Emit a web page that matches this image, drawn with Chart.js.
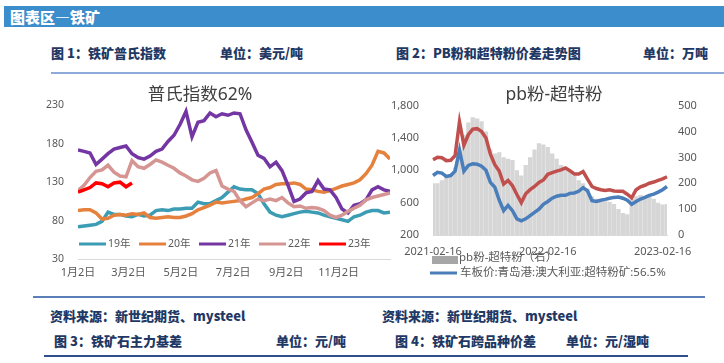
<!DOCTYPE html>
<html lang="zh">
<head>
<meta charset="utf-8">
<title>图表区—铁矿</title>
<script src="https://cdn.jsdelivr.net/npm/chart.js@4.4.0/dist/chart.umd.min.js"></script>
<style>
  body { margin: 0; background: #fff; font-family: "Noto Sans CJK SC", sans-serif; }
  #page { position: relative; width: 724px; height: 363px; overflow: hidden; }
  .t { position: absolute; white-space: nowrap; }
  #band { left: 4px; top: 6px; width: 720px; height: 21px; background: #3c8dcb; }
  #band span { position: absolute; left: 6px; top: 0; line-height: 21px; color: #fff; font-weight: 900; font-size: 15px; }
  .hd { font-size: 13px; font-weight: 900; color: #1f3864; line-height: 16px; }
  .rule { position: absolute; }
  canvas { position: absolute; }
</style>
</head>
<body>
<div id="page">
  <div id="band" class="t"><span>图表区—铁矿</span></div>
  <div class="t hd" style="left:51px;top:45px">图 1：铁矿普氏指数</div>
  <div class="t hd" style="left:220px;top:45px">单位：美元/吨</div>
  <div class="t hd" style="left:396px;top:45px">图 2：PB粉和超特粉价差走势图</div>
  <div class="t hd" style="left:643px;top:45px">单位：万吨</div>
  <div class="rule" style="left:51px;top:72px;width:673px;height:2px;background:#8eaadb"></div>

  <canvas id="ironIndex" width="362" height="200" style="left:30px;top:85px"></canvas>
  <canvas id="pbSpread" width="332" height="200" style="left:392px;top:85px"></canvas>

  <div class="rule" style="left:33px;top:296px;width:672px;height:2px;background:#5b80b8"></div>
  <div class="t hd" style="left:50px;top:308px">资料来源：新世纪期货、mysteel</div>
  <div class="t hd" style="left:382px;top:308px">资料来源：新世纪期货、mysteel</div>
  <div class="t hd" style="left:54px;top:333px">图 3：铁矿石主力基差</div>
  <div class="t hd" style="left:276px;top:333px">单位：元/吨</div>
  <div class="t hd" style="left:395px;top:333px">图 4：铁矿石跨品种价差</div>
  <div class="t hd" style="left:566px;top:333px">单位：元/湿吨</div>
  <div class="rule" style="left:44px;top:355px;width:644px;height:2px;background:#2d4f8e"></div>
</div>

<script>
// ---- chart 1: Platts 62% index, one line per year (day of year, weekly) ----
const indexDays = [0, 7, 14, 21, 28, 35, 42, 49, 56, 63, 70, 77, 84, 91, 98, 105, 112, 119, 126, 133,
  140, 147, 154, 161, 168, 175, 182, 189, 196, 203, 210, 217, 224, 231, 238, 245, 252, 259, 266, 273,
  280, 287, 294, 301, 308, 315, 322, 329, 336, 343, 350, 357, 364];
const index2019 = [72, 73, 74, 75, 79, 91, 88, 88, 86, 85, 88, 86, 87, 93, 94, 93, 95, 95, 96, 96,
  104, 102, 102, 106, 110, 117, 124, 121, 120, 120, 115, 102, 91, 87, 85, 87, 89, 91, 92, 91,
  90, 87, 85, 83, 81, 79, 85, 87, 91, 93, 93, 90, 91];
const index2020 = [93, 94, 94, 90, 82, 83, 87, 88, 87, 89, 88, 90, 84, 83, 84, 85, 84, 84, 86, 89,
  94, 97, 100, 104, 103, 104, 105, 106, 108, 110, 115, 121, 123, 127, 128, 128, 129, 127, 121, 120,
  118, 117, 119, 122, 125, 127, 129, 133, 141, 152, 170, 168, 160];
const index2021 = [172, 170, 168, 153, 160, 167, 173, 175, 177, 167, 162, 160, 164, 170, 173, 183, 191, 205, 222, 189,
  208, 210, 220, 215, 219, 217, 220, 219, 198, 182, 165, 161, 150, 156, 145, 126, 105, 108, 116, 118,
  132, 121, 120, 110, 95, 90, 100, 102, 107, 120, 124, 120, 118];
const index2022 = [119, 126, 136, 144, 146, 152, 143, 138, 137, 158, 150, 148, 153, 159, 156, 152, 148, 142, 138, 133,
  131, 135, 142, 145, 125, 121, 118, 106, 98, 103, 108, 106, 108, 106, 110, 103, 98, 99, 96, 97,
  96, 93, 87, 84, 87, 92, 96, 100, 107, 110, 112, 114, 116];
const index2023 = [117, 120, 123, 129, 128, 124, 129, 130, 124, 129];
const indexYears = ["19年", "20年", "21年", "22年", "23年"];
const indexTickDays = [0, 59, 120, 181, 243, 304];
const indexTickLabels = ["1月2日", "3月2日", "5月2日", "7月2日", "9月2日", "11月2日"];

// ---- chart 2: PB fines vs super special fines (every two weeks from 2021-02-16) ----
const pbFines = [1130, 1160, 1155, 1120, 1125, 1180, 1600, 1310, 1440, 1510, 1515, 1480, 1400, 1200, 1070, 990, 830, 875,
  810, 700, 600, 710, 760, 800, 850, 880, 950, 970, 990, 1005, 1030, 995, 955, 955, 985, 890,
  800, 775, 760, 750, 760, 745, 740, 740, 705, 660, 760, 795, 815, 840, 855, 875, 895, 920];
const superFines = [936, 975, 965, 925, 935, 990, 1250, 990, 1060, 1080, 1075, 1050, 1000, 850, 790, 630, 500, 565,
  500, 400, 375, 400, 440, 480, 520, 580, 615, 655, 680, 690, 690, 715, 720, 740, 785, 745,
  625, 615, 630, 640, 655, 665, 670, 655, 630, 580, 615, 645, 665, 690, 705, 730, 760, 800];
const pbSpread = [200, 200, 212, 225, 236, 260, 330, 387, 435, 455, 450, 440, 400, 330, 315, 320, 300, 295,
  290, 250, 230, 270, 300, 330, 355, 350, 340, 315, 295, 270, 255, 245, 230, 212, 200, 180,
  150, 140, 135, 130, 128, 120, 100, 85, 80, 140, 150, 155, 150, 150, 140, 125, 118, 120];
const spreadTickIdx = [0, 26, 52];
const spreadTickText = ["2021-02-16", "2022-02-16", "2023-02-16"];

const spreadDates = pbFines.map(function (_, i) {
  return new Date(Date.UTC(2021, 1, 16 + 14 * i)).toISOString().slice(0, 10);
});

Chart.defaults.font.family = "'Noto Sans', 'Noto Sans CJK SC', sans-serif";
Chart.defaults.color = "#595959";
Chart.defaults.animation = false;

// title text sits over the top of the plot, like the Excel original
const titleText = {
    id: "titleText",
    beforeDatasetsDraw(chart, args, opts) {
        const ctx = chart.ctx;
        ctx.save();
        ctx.font = "17.5px 'Noto Sans', 'Noto Sans CJK SC', sans-serif";
        ctx.fillStyle = "#404040";
        ctx.textAlign = "center";
        ctx.textBaseline = "middle";
        ctx.fillText(opts.text, opts.x, opts.y);
        ctx.restore();
    },
};

// year legend drawn inside the plot, just above the x axis
const yearLegend = {
    id: "yearLegend",
    afterDatasetsDraw(chart) {
        const ctx = chart.ctx;
        const y = chart.chartArea.bottom - 15;
        ctx.save();
        ctx.font = "10.5px 'Noto Sans', 'Noto Sans CJK SC', sans-serif";
        ctx.textBaseline = "middle";
        chart.data.datasets.forEach(function (ds, i) {
            const x = chart.chartArea.left + 1 + i * 60;
            ctx.strokeStyle = ds.borderColor;
            ctx.lineWidth = 3;
            ctx.beginPath();
            ctx.moveTo(x, y);
            ctx.lineTo(x + 27, y);
            ctx.stroke();
            ctx.fillStyle = "#595959";
            ctx.fillText(ds.label, x + 29, y);
        });
        ctx.restore();
    },
};

// legend under the second chart: gray box for the spread, blue line for super fines
const spreadLegend = {
    id: "spreadLegend",
    beforeDraw(chart) {
        const ctx = chart.ctx;
        const a = chart.chartArea;
        const bars = chart.data.datasets[2];
        const blue = chart.data.datasets[0];
        ctx.save();
        ctx.font = "11.5px 'Noto Sans', 'Noto Sans CJK SC', sans-serif";
        ctx.textBaseline = "middle";
        ctx.fillStyle = "#a6a6a6";
        ctx.fillRect(a.left - 1, a.bottom + 21, 26, 8);
        ctx.fillStyle = "#595959";
        ctx.fillText(bars.label, a.left + 26, a.bottom + 23);
        ctx.strokeStyle = blue.borderColor;
        ctx.lineWidth = 3;
        ctx.beginPath();
        ctx.moveTo(a.left - 3, a.bottom + 38);
        ctx.lineTo(a.left + 24, a.bottom + 38);
        ctx.stroke();
        ctx.fillText(blue.label, a.left + 27, a.bottom + 38);
        ctx.restore();
    },
};

function yearSeries(label, values, color, order) {
    return {
        label: label,
        data: values.map(function (v, i) { return { x: indexDays[i], y: v }; }),
        borderColor: color,
        borderWidth: 3.5,
        pointRadius: 0,
        tension: 0,
        order: order,
    };
}

new Chart(document.getElementById("ironIndex"), {
    type: "line",
    data: {
        datasets: [
            yearSeries(indexYears[0], index2019, "#3c9cb4", 4),
            yearSeries(indexYears[1], index2020, "#e5813d", 3),
            yearSeries(indexYears[2], index2021, "#7436a3", 2),
            yearSeries(indexYears[3], index2022, "#d59593", 1),
            yearSeries(indexYears[4], index2023, "#ff0000", 0),
        ],
    },
    options: {
        responsive: false,
        layout: { padding: { top: 16, right: 2, left: 0, bottom: 0 } },
        plugins: {
            legend: { display: false },
            tooltip: { enabled: false },
            titleText: { text: "普氏指数62%", x: 170, y: 10 },
        },
        scales: {
            x: {
                type: "linear",
                min: 0,
                max: 364,
                grid: { display: false, drawTicks: false },
                border: { color: "#d9d9d9" },
                afterBuildTicks: function (s) {
                    s.ticks = indexTickDays.map(function (v) { return { value: v }; });
                },
                ticks: {
                    autoSkip: false,
                    maxRotation: 0,
                    padding: 7,
                    font: { size: 11 },
                    callback: function (v) { return indexTickLabels[indexTickDays.indexOf(v)]; },
                },
                afterFit: function (s) { s.height = 26; },
            },
            y: {
                min: 30,
                max: 230,
                grid: { display: false, drawTicks: false },
                border: { display: false },
                ticks: { stepSize: 50, padding: 14, font: { size: 10.5 } },
                afterFit: function (s) { s.width = 48; },
            },
        },
    },
    plugins: [titleText, yearLegend],
});

new Chart(document.getElementById("pbSpread"), {
    type: "bar",
    data: {
        labels: spreadDates,
        datasets: [
            {
                type: "line",
                label: "车板价:青岛港:澳大利亚:超特粉矿:56.5%",
                data: superFines,
                borderColor: "#4a7ebb",
                borderWidth: 3.5,
                pointRadius: 0,
                yAxisID: "y",
                order: 0,
            },
            {
                type: "line",
                label: "车板价:青岛港:澳大利亚:PB粉矿:61.5%",
                data: pbFines,
                borderColor: "#c0504d",
                borderWidth: 3.5,
                pointRadius: 0,
                yAxisID: "y",
                order: 1,
            },
            {
                type: "bar",
                label: "pb粉-超特粉（右）",
                data: pbSpread,
                backgroundColor: "#d6d6d6",
                barPercentage: 0.97,
                categoryPercentage: 1,
                yAxisID: "y1",
                order: 2,
            },
        ],
    },
    options: {
        responsive: false,
        layout: { padding: { top: 12, right: 0, left: 0, bottom: 0 } },
        plugins: {
            legend: { display: false },
            tooltip: { enabled: false },
            titleText: { text: "pb粉-超特粉", x: 162, y: 10 },
        },
        scales: {
            x: {
                type: "category",
                offset: false,
                grid: { display: false, drawTicks: false },
                border: { color: "#d9d9d9" },
                afterBuildTicks: function (s) {
                    s.ticks = s.ticks.filter(function (t) { return spreadTickIdx.includes(t.value); });
                },
                ticks: {
                    autoSkip: false,
                    maxRotation: 0,
                    padding: 10,
                    font: { size: 11 },
                    callback: function (v) { return spreadTickText[spreadTickIdx.indexOf(v)]; },
                },
                afterFit: function (s) { s.height = 50; },
            },
            y: {
                position: "left",
                min: 200,
                max: 1800,
                grid: { display: false, drawTicks: false },
                border: { display: false },
                ticks: {
                    stepSize: 200,
                    padding: 14,
                    font: { size: 11 },
                    callback: function (v) { return v.toLocaleString("en-US"); },
                },
                afterFit: function (s) { s.width = 41; },
            },
            y1: {
                position: "right",
                min: 0,
                max: 500,
                grid: { display: false, drawTicks: false },
                border: { display: false },
                ticks: { stepSize: 100, padding: 11, font: { size: 11 } },
                afterFit: function (s) { s.width = 57; },
            },
        },
    },
    plugins: [titleText, spreadLegend],
});
</script>
</body>
</html>
